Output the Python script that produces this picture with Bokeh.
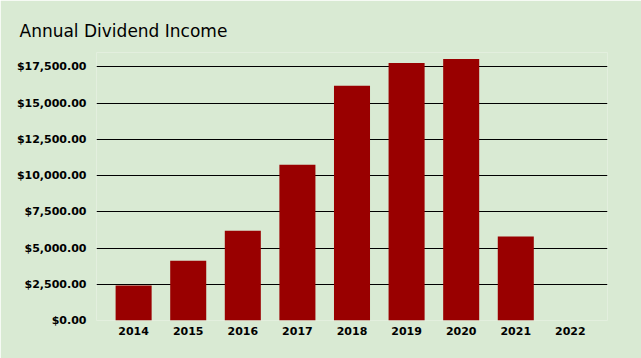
from bokeh.plotting import figure
from bokeh.models import FactorRange, Range1d, FixedTicker, NumeralTickFormatter
from bokeh.embed import file_html
from bokeh.resources import INLINE

years = ["2014", "2015", "2016", "2017", "2018", "2019", "2020", "2021", "2022"]
income = [2410, 4130, 6200, 10750, 16200, 17780, 18050, 5790, 0]
y_ticks = [0, 2500, 5000, 7500, 10000, 12500, 15000, 17500]

BG = "#d9ead3"
BAR = "#990000"

p = figure(
    width=641, height=358,
    x_range=FactorRange(*years, range_padding=0.04),
    y_range=Range1d(0, 18500),
    output_backend="svg", toolbar_location=None,
    title="Annual Dividend Income",
    min_border_left=96, min_border_right=34, min_border_bottom=38, min_border_top=52,
)
p.vbar(x=years, top=income, width=0.66, color=BAR, line_color=None)

p.background_fill_color = BG
p.border_fill_color = BG
p.outline_line_color = None

p.title.text_font = "DejaVu Sans"
p.title.text_font_size = "17px"
p.title.text_font_style = "normal"
p.title.text_color = "#000000"
p.title.offset = -77
p.title.standoff = 23

p.xgrid.grid_line_color = None
p.ygrid.grid_line_color = "#000000"
p.ygrid.grid_line_width = 1

p.yaxis.ticker = FixedTicker(ticks=y_ticks)
p.yaxis.formatter = NumeralTickFormatter(format="$0,0.00")
for ax in (p.xaxis, p.yaxis):
    ax.axis_line_color = None
    ax.major_tick_line_color = None
    ax.minor_tick_line_color = None
    ax.major_tick_out = 0
    ax.major_tick_in = 0
    ax.minor_tick_out = 0
    ax.major_label_text_font = "DejaVu Sans"
    ax.major_label_text_font_size = "11px"
    ax.major_label_text_font_style = "bold"
    ax.major_label_text_color = "#000000"
p.yaxis.major_label_standoff = 10
p.xaxis.major_label_standoff = 6

open("out.html", "w").write(file_html(p, INLINE))
